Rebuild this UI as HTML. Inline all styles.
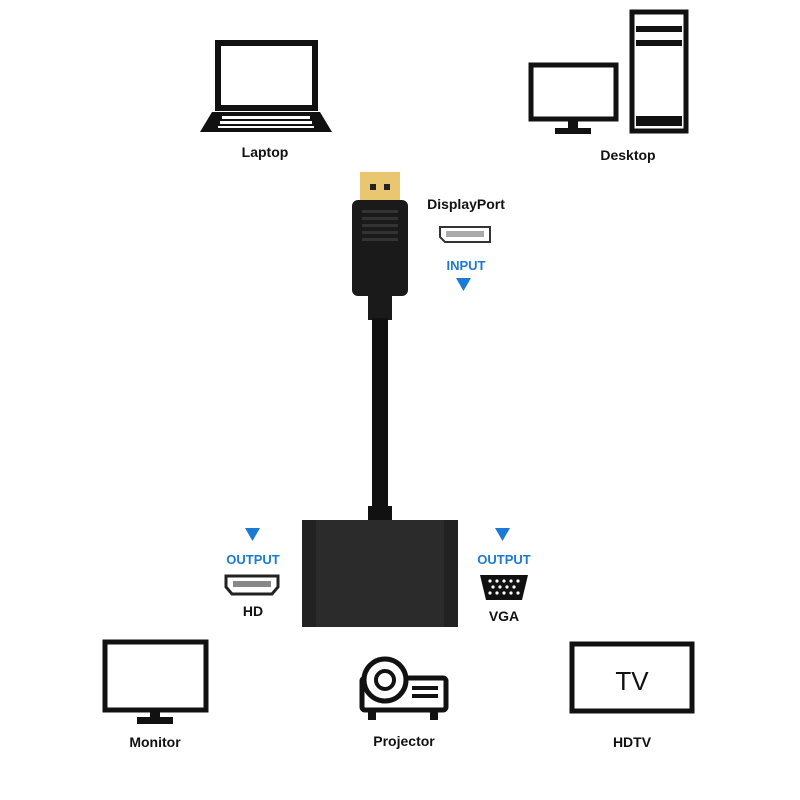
<!DOCTYPE html>
<html><head><style>body{margin:0;background:#fff}svg{display:block}</style></head><body>
<svg width="800" height="800" viewBox="0 0 800 800" font-family="Liberation Sans, sans-serif" font-weight="bold">
<!-- Laptop -->
<rect x="218" y="43" width="97" height="65" fill="none" stroke="#111" stroke-width="6"/>
<path d="M212 112 L320 112 L332 132 L200 132 Z" fill="#111"/>
<g fill="#fff"><rect x="222" y="116" width="88" height="3"/><rect x="220" y="121" width="92" height="3"/><rect x="218" y="126" width="96" height="2"/></g>
<text x="265" y="157" font-size="14" text-anchor="middle" fill="#111">Laptop</text>
<!-- Desktop -->
<rect x="531" y="65" width="85" height="54" fill="none" stroke="#111" stroke-width="5"/>
<rect x="568" y="119" width="10" height="10" fill="#111"/><rect x="555" y="128" width="36" height="6" fill="#111"/>
<rect x="632" y="12" width="54" height="119" fill="none" stroke="#111" stroke-width="5"/>
<rect x="636" y="26" width="46" height="6" fill="#111"/><rect x="636" y="40" width="46" height="6" fill="#111"/><rect x="636" y="116" width="46" height="10" fill="#111"/>
<text x="628" y="160" font-size="14" text-anchor="middle" fill="#111">Desktop</text>
<!-- DP plug -->
<rect x="360" y="172" width="40" height="32" fill="#e8c770"/>
<rect x="370" y="184" width="6" height="6" fill="#222"/><rect x="384" y="184" width="6" height="6" fill="#222"/>
<rect x="352" y="200" width="56" height="96" rx="6" fill="#1a1a1a"/>
<g fill="#333"><rect x="362" y="210" width="36" height="3"/><rect x="362" y="217" width="36" height="3"/><rect x="362" y="224" width="36" height="3"/><rect x="362" y="231" width="36" height="3"/><rect x="362" y="238" width="36" height="3"/></g>
<rect x="368" y="292" width="24" height="28" fill="#1a1a1a"/>
<rect x="372" y="318" width="16" height="195" fill="#111"/>
<rect x="368" y="506" width="24" height="20" fill="#111"/>
<!-- Box -->
<rect x="302" y="520" width="156" height="107" rx="5" fill="#2b2b2b"/>
<rect x="302" y="520" width="14" height="107" fill="#222"/><rect x="444" y="520" width="14" height="107" fill="#222"/>
<!-- DP labels -->
<text x="466" y="209" font-size="14" text-anchor="middle" fill="#111">DisplayPort</text>
<path d="M440 227 H490 V242 H445 L440 237 Z" fill="#fff" stroke="#333" stroke-width="2"/>
<rect x="446" y="231" width="38" height="6" fill="#aaa"/>
<text x="466" y="270" font-size="13" text-anchor="middle" fill="#1a7ad4">INPUT</text>
<path d="M456 278 H471 L463.5 291 Z" fill="#1a7ad4"/>
<!-- HD -->
<path d="M245 528 H260 L252.5 541 Z" fill="#1a7ad4"/>
<text x="253" y="564" font-size="13" text-anchor="middle" fill="#1a7ad4">OUTPUT</text>
<path d="M226 576 H278 V587 L272 594 H232 L226 587 Z" fill="#fff" stroke="#222" stroke-width="3"/>
<rect x="233" y="581" width="38" height="6" fill="#888"/>
<text x="253" y="616" font-size="14" text-anchor="middle" fill="#111">HD</text>
<!-- VGA -->
<path d="M495 528 H510 L502.5 541 Z" fill="#1a7ad4"/>
<text x="504" y="564" font-size="13" text-anchor="middle" fill="#1a7ad4">OUTPUT</text>
<path d="M480 575 H528 L522 600 H486 Z" fill="#111"/>
<g fill="#fff"><circle cx="490" cy="581" r="1.6"/><circle cx="497" cy="581" r="1.6"/><circle cx="504" cy="581" r="1.6"/><circle cx="511" cy="581" r="1.6"/><circle cx="518" cy="581" r="1.6"/>
<circle cx="493" cy="587" r="1.6"/><circle cx="500" cy="587" r="1.6"/><circle cx="507" cy="587" r="1.6"/><circle cx="514" cy="587" r="1.6"/>
<circle cx="490" cy="593" r="1.6"/><circle cx="497" cy="593" r="1.6"/><circle cx="504" cy="593" r="1.6"/><circle cx="511" cy="593" r="1.6"/><circle cx="518" cy="593" r="1.6"/></g>
<text x="504" y="621" font-size="14" text-anchor="middle" fill="#111">VGA</text>
<!-- Monitor -->
<rect x="105" y="642" width="101" height="68" fill="none" stroke="#111" stroke-width="5"/>
<rect x="150" y="710" width="10" height="8" fill="#111"/><rect x="137" y="717" width="36" height="7" fill="#111"/>
<text x="155" y="747" font-size="14" text-anchor="middle" fill="#111">Monitor</text>
<!-- Projector -->
<rect x="362" y="678" width="84" height="32" rx="3" fill="none" stroke="#111" stroke-width="5"/>
<circle cx="385" cy="680" r="21" fill="#fff" stroke="#111" stroke-width="5"/>
<circle cx="385" cy="680" r="9" fill="none" stroke="#111" stroke-width="4"/>
<rect x="412" y="686" width="26" height="4" fill="#111"/><rect x="412" y="694" width="26" height="4" fill="#111"/>
<rect x="368" y="710" width="8" height="10" fill="#111"/><rect x="430" y="710" width="8" height="10" fill="#111"/>
<text x="404" y="746" font-size="14" text-anchor="middle" fill="#111">Projector</text>
<!-- TV -->
<rect x="572" y="644" width="120" height="67" fill="none" stroke="#111" stroke-width="5"/>
<text x="632" y="690" font-size="26" font-weight="normal" text-anchor="middle" fill="#111">TV</text>
<text x="632" y="747" font-size="14" text-anchor="middle" fill="#111">HDTV</text>
</svg>
</body></html>
